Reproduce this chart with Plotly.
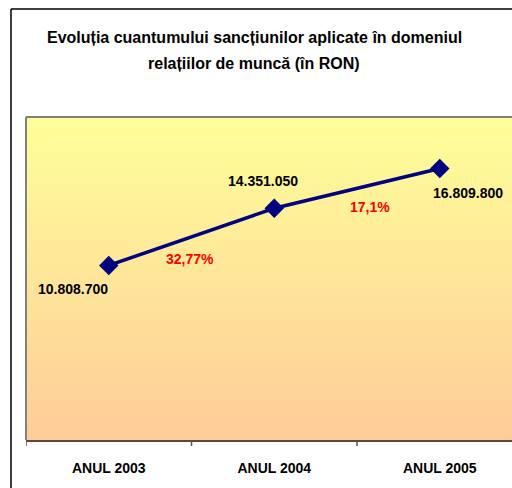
import plotly.graph_objects as go

categories = ["ANUL 2003", "ANUL 2004", "ANUL 2005"]
values = [10808700, 14351050, 16809800]
value_labels = ["10.808.700", "14.351.050", "16.809.800"]
growth_labels = ["32,77%", "17,1%"]
title_lines = ["Evoluția cuantumului sancțiunilor aplicate în domeniul", "relațiilor de muncă (în RON)"]

xs = list(range(len(categories)))
FONT = "Liberation Sans, Arial, sans-serif"

XR = [-0.5, 2.5 - 10.5 / 165.5]
YR = [0, 20000000]

fig = go.Figure()

# gradient background of plot area
fig.add_trace(go.Scatter(
    x=[XR[0], XR[1], XR[1], XR[0], XR[0]], y=[YR[0], YR[0], YR[1], YR[1], YR[0]],
    mode="lines", line=dict(width=0), fill="toself",
    fillgradient=dict(type="vertical", colorscale=[[0, "#FFCC99"], [1, "#FFFF99"]]),
    hoverinfo="skip", showlegend=False))

fig.add_trace(go.Scatter(
    x=xs, y=values, mode="lines+markers",
    line=dict(color="#000080", width=3.5),
    marker=dict(symbol="diamond", size=15, color="#000080"),
    showlegend=False, cliponaxis=False))

width, height = 512, 488
ml, mr, mt, mb = 26, 0, 117, 48
pw, ph = width - ml - mr, height - mt - mb

def px_x(p):
    return (p - ml) / pw

def px_y(p):
    return (height - mb - p) / ph

annotations = []
offsets = [(-36, 24), (-11, -27), (28, 24)]
for x, v, t, (dx, dy) in zip(xs, values, value_labels, offsets):
    annotations.append(dict(x=x, y=v, xref="x", yref="y", text=t, showarrow=False,
                            xshift=dx, yshift=-dy,
                            font=dict(family=FONT, size=14, color="black", weight="bold")))
for i, t in enumerate(growth_labels):
    xm = (xs[i] + xs[i + 1]) / 2
    ym = (values[i] + values[i + 1]) / 2
    annotations.append(dict(x=xm, y=ym, xref="x", yref="y", text=t, showarrow=False,
                            xshift=(-2 if i == 0 else 13), yshift=(-22 if i == 0 else -19),
                            font=dict(family=FONT, size=14, color="#FF0000", weight="bold")))
for line, yp in zip(title_lines, [37, 63]):
    annotations.append(dict(x=px_x(254), y=px_y(yp), xref="paper", yref="paper", text=line,
                            showarrow=False, xanchor="center", yanchor="middle",
                            font=dict(family=FONT, size=16, color="black", weight="bold")))

shapes = []
for b in [-0.5, 0.5, 1.5, 2.5]:
    shapes.append(dict(type="line", xref="x", yref="paper", x0=b, x1=b, y0=0, y1=-6 / ph,
                       line=dict(color="#555555", width=1.5)))
shapes.append(dict(type="line", xref="paper", yref="paper", x0=0, x1=1.05, y0=1, y1=1,
                   line=dict(color="#808080", width=2)))
shapes.append(dict(type="line", xref="paper", yref="paper", x0=0, x1=0, y0=0, y1=1,
                   line=dict(color="#808080", width=2)))
shapes.append(dict(type="line", xref="paper", yref="paper", x0=px_x(11), x1=px_x(11),
                   y0=px_y(9), y1=px_y(500), line=dict(color="#000000", width=1.5)))
shapes.append(dict(type="line", xref="paper", yref="paper", x0=px_x(11), x1=px_x(520),
                   y0=px_y(9), y1=px_y(9), line=dict(color="#000000", width=1.5)))

fig.update_layout(
    width=width, height=height,
    margin=dict(l=ml, r=mr, t=mt, b=mb),
    paper_bgcolor="white", plot_bgcolor="rgba(0,0,0,0)",
    annotations=annotations, shapes=shapes,
    xaxis=dict(range=XR, tickvals=xs, ticktext=categories,
               ticks="", showgrid=False, zeroline=False, showline=True,
               linecolor="#5A4A3A", linewidth=2, ticklabelstandoff=14,
               tickfont=dict(family=FONT, size=14, color="black", weight="bold")),
    yaxis=dict(range=YR, showgrid=False, zeroline=False, showticklabels=False,
               ticks="", showline=False),
)

fig.write_html("out.html", config={"displayModeBar": False},
               post_script="document.body.style.margin='0';document.body.style.overflow='hidden';")
